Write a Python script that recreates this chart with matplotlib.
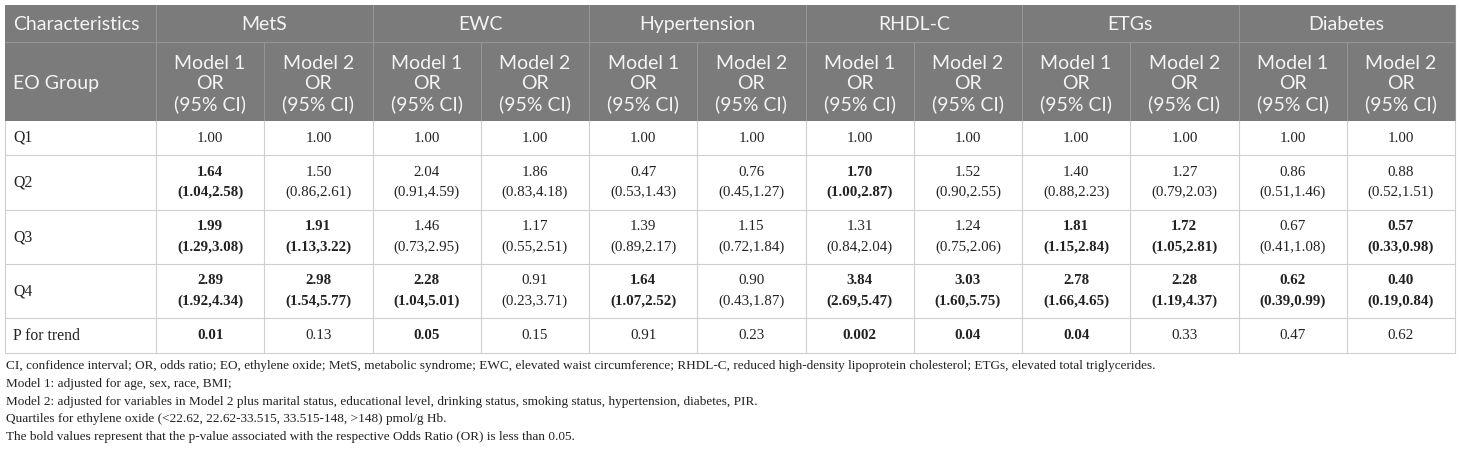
import matplotlib.pyplot as plt
from matplotlib.patches import Rectangle

# table content
outcomes = ["MetS", "EWC", "Hypertension", "RHDL-C", "ETGs", "Diabetes"]
groups = ["Q1", "Q2", "Q3", "Q4", "P for trend"]

q1_or = ["1.00"] * 12

q2_or = ["1.64", "1.50", "2.04", "1.86", "0.47", "0.76", "1.70", "1.52", "1.40", "1.27", "0.86", "0.88"]
q2_ci = ["(1.04,2.58)", "(0.86,2.61)", "(0.91,4.59)", "(0.83,4.18)", "(0.53,1.43)", "(0.45,1.27)",
         "(1.00,2.87)", "(0.90,2.55)", "(0.88,2.23)", "(0.79,2.03)", "(0.51,1.46)", "(0.52,1.51)"]
q2_bold = [1, 0, 0, 0, 0, 0, 1, 0, 0, 0, 0, 0]

q3_or = ["1.99", "1.91", "1.46", "1.17", "1.39", "1.15", "1.31", "1.24", "1.81", "1.72", "0.67", "0.57"]
q3_ci = ["(1.29,3.08)", "(1.13,3.22)", "(0.73,2.95)", "(0.55,2.51)", "(0.89,2.17)", "(0.72,1.84)",
         "(0.84,2.04)", "(0.75,2.06)", "(1.15,2.84)", "(1.05,2.81)", "(0.41,1.08)", "(0.33,0.98)"]
q3_bold = [1, 1, 0, 0, 0, 0, 0, 0, 1, 1, 0, 1]

q4_or = ["2.89", "2.98", "2.28", "0.91", "1.64", "0.90", "3.84", "3.03", "2.78", "2.28", "0.62", "0.40"]
q4_ci = ["(1.92,4.34)", "(1.54,5.77)", "(1.04,5.01)", "(0.23,3.71)", "(1.07,2.52)", "(0.43,1.87)",
         "(2.69,5.47)", "(1.60,5.75)", "(1.66,4.65)", "(1.19,4.37)", "(0.39,0.99)", "(0.19,0.84)"]
q4_bold = [1, 1, 1, 0, 1, 0, 1, 1, 1, 1, 1, 1]

p_trend = ["0.01", "0.13", "0.05", "0.15", "0.91", "0.23", "0.002", "0.04", "0.04", "0.33", "0.47", "0.62"]
p_bold = [1, 0, 1, 0, 0, 0, 1, 1, 1, 0, 0, 0]

footnotes = [
    "CI, confidence interval; OR, odds ratio; EO, ethylene oxide; MetS, metabolic syndrome; EWC, elevated waist circumference; "
    "RHDL-C, reduced high-density lipoprotein cholesterol; ETGs, elevated total triglycerides.",
    "Model 1: adjusted for age, sex, race, BMI;",
    "Model 2: adjusted for variables in Model 2 plus marital status, educational level, drinking status, smoking status, "
    "hypertension, diabetes, PIR.",
    "Quartiles for ethylene oxide (<22.62, 22.62-33.515, 33.515-148, >148) pmol/g Hb.",
    "The bold values represent that the p-value associated with the respective Odds Ratio (OR) is less than 0.05.",
]

# layout in pixels
W, H = 1460, 451
x0, first_w, col_w = 5, 151, 108.25
xs = [x0, x0 + first_w] + [x0 + first_w + col_w * (i + 1) for i in range(12)]
ys = [5, 42, 121, 155, 210, 264, 318, 353]

head_bg = "#7b7b7b"
head_line = "#949494"
head_fg = "#f4f4f4"
body_line = "#cfcfcf"
body_fg = "#222222"
sans = "Lato"
serif = "Liberation Serif"

fig = plt.figure(figsize=(W / 100, H / 100), dpi=100)
ax = fig.add_axes([0, 0, 1, 1])
ax.set_xlim(0, W)
ax.set_ylim(H, 0)
ax.axis("off")

# header background
ax.add_patch(Rectangle((xs[0], ys[0]), xs[-1] - xs[0], ys[2] - ys[0], color=head_bg, lw=0))

lw = 0.8
# header lines
ax.plot([xs[0], xs[-1]], [ys[1], ys[1]], color=head_line, lw=lw)
for i in range(1, 14, 2):
    ax.plot([xs[i], xs[i]], [ys[0], ys[2]], color=head_line, lw=lw)
for i in range(2, 13, 2):
    ax.plot([xs[i], xs[i]], [ys[1], ys[2]], color=head_line, lw=lw)

# body lines
for y in ys[3:]:
    ax.plot([xs[0], xs[-1]], [y, y], color=body_line, lw=lw)
for x in xs:
    ax.plot([x, x], [ys[2], ys[-1]], color=body_line, lw=lw)

hfs = 14
ax.text(xs[0] + 8, (ys[0] + ys[1]) / 2 + 1, "Characteristics", color=head_fg, fontsize=hfs,
        family=sans, ha="left", va="center")
for k, name in enumerate(outcomes):
    xc = (xs[1 + 2 * k] + xs[3 + 2 * k]) / 2
    ax.text(xc, (ys[0] + ys[1]) / 2 + 1, name, color=head_fg, fontsize=hfs, family=sans,
            ha="center", va="center")
ax.text(xs[0] + 8, (ys[1] + ys[2]) / 2 + 2, "EO Group", color=head_fg, fontsize=hfs,
        family=sans, ha="left", va="center")
for j in range(12):
    xc = (xs[1 + j] + xs[2 + j]) / 2
    ax.text(xc, (ys[1] + ys[2]) / 2 + 3, f"Model {j % 2 + 1}\nOR\n(95% CI)", color=head_fg,
            fontsize=hfs, family=sans, ha="center", va="center", linespacing=1.22)

bfs = 10.8
rows = [(q1_or, None, [0] * 12), (q2_or, q2_ci, q2_bold), (q3_or, q3_ci, q3_bold),
        (q4_or, q4_ci, q4_bold), (p_trend, None, p_bold)]
for r, (vals, cis, bold) in enumerate(rows):
    yt, yb = ys[2 + r], ys[3 + r]
    yc = (yt + yb) / 2
    ax.text(xs[0] + 8, yc, groups[r], color=body_fg, fontsize=bfs + 0.5, family=serif,
            ha="left", va="center")
    for j in range(12):
        xc = (xs[1 + j] + xs[2 + j]) / 2
        fw = "bold" if bold[j] else "normal"
        if cis is None:
            ax.text(xc, yc, vals[j], color=body_fg, fontsize=bfs, family=serif,
                    fontweight=fw, ha="center", va="center")
        else:
            ax.text(xc, yc - 10, vals[j], color=body_fg, fontsize=bfs, family=serif,
                    fontweight=fw, ha="center", va="center")
            ax.text(xc, yc + 10, cis[j], color=body_fg, fontsize=bfs, family=serif,
                    fontweight=fw, ha="center", va="center")

for i, line in enumerate(footnotes):
    ax.text(6, 366 + i * 17.8, line, color=body_fg, fontsize=9.55, family=serif,
            ha="left", va="center")

fig.savefig("out.png", dpi=100)
